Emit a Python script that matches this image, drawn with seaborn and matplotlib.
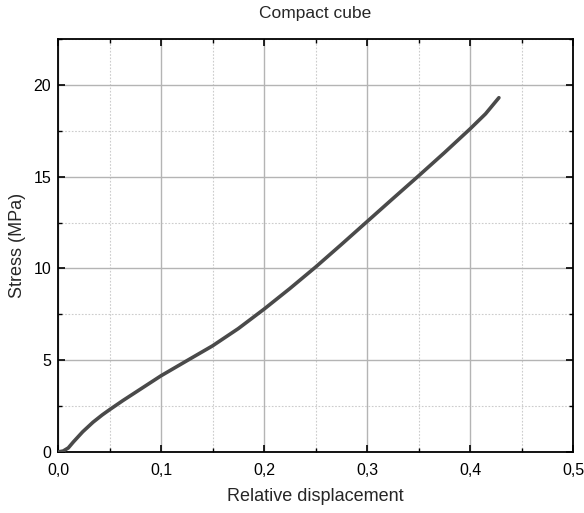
import matplotlib
matplotlib.use("Agg")
import matplotlib.pyplot as plt
import seaborn as sns
import pandas as pd
from matplotlib.ticker import MultipleLocator, FuncFormatter

displacement = [0.0, 0.005, 0.01, 0.015, 0.024, 0.034, 0.043, 0.05, 0.063, 0.08, 0.1,
                0.126, 0.15, 0.175, 0.2, 0.225, 0.25, 0.275, 0.3, 0.325, 0.35, 0.375,
                0.4, 0.415, 0.428]
stress = [0.0, 0.05, 0.22, 0.55, 1.1, 1.62, 2.02, 2.3, 2.8, 3.42, 4.15,
          5.0, 5.78, 6.72, 7.78, 8.9, 10.07, 11.3, 12.55, 13.8, 15.04, 16.3,
          17.6, 18.42, 19.3]

sns.set_style("white")
plt.rcParams['font.family'] = ['Liberation Sans', 'DejaVu Sans']

df = pd.DataFrame({"Relative displacement": displacement, "Stress (MPa)": stress})

fig = plt.figure(figsize=(5.84, 5.13), dpi=100)
ax = fig.add_axes([0.0993, 0.119, 0.882, 0.805])
sns.lineplot(data=df, x="Relative displacement", y="Stress (MPa)", ax=ax,
             color="#4a4a4a", linewidth=2.6, zorder=3)

ax.set_xlim(0, 0.5)
ax.set_ylim(0, 22.5)
ax.xaxis.set_major_locator(MultipleLocator(0.1))
ax.xaxis.set_minor_locator(MultipleLocator(0.05))
ax.yaxis.set_major_locator(MultipleLocator(5))
ax.yaxis.set_minor_locator(MultipleLocator(2.5))
ax.xaxis.set_major_formatter(FuncFormatter(lambda v, p: f"{v:.1f}".replace('.', ',')))
ax.yaxis.set_major_formatter(FuncFormatter(lambda v, p: f"{v:g}"))

ax.grid(which='major', color='#b4b4b4', linestyle='-', linewidth=1.0)
ax.grid(which='minor', color='#cccccc', linestyle=(0, (1.5, 1.5)), linewidth=0.8)
ax.set_axisbelow(True)

ax.tick_params(which='both', direction='in', top=True, right=True, bottom=True, left=True,
               color='black', labelsize=11.5, labelcolor='black')
ax.tick_params(which='major', length=5, width=1.2)
ax.tick_params(which='minor', length=3, width=1.0)
ax.tick_params(axis='x', which='major', pad=8)
ax.tick_params(axis='y', which='major', pad=5)
for s in ax.spines.values():
    s.set_visible(True)
    s.set_color('black')
    s.set_linewidth(1.3)

ax.set_xlabel("Relative displacement", fontsize=13, labelpad=7)
ax.set_ylabel("Stress (MPa)", fontsize=13, labelpad=5)
ax.set_title("Compact cube", fontsize=12.5, pad=15)

fig.savefig("out.png", dpi=100)
